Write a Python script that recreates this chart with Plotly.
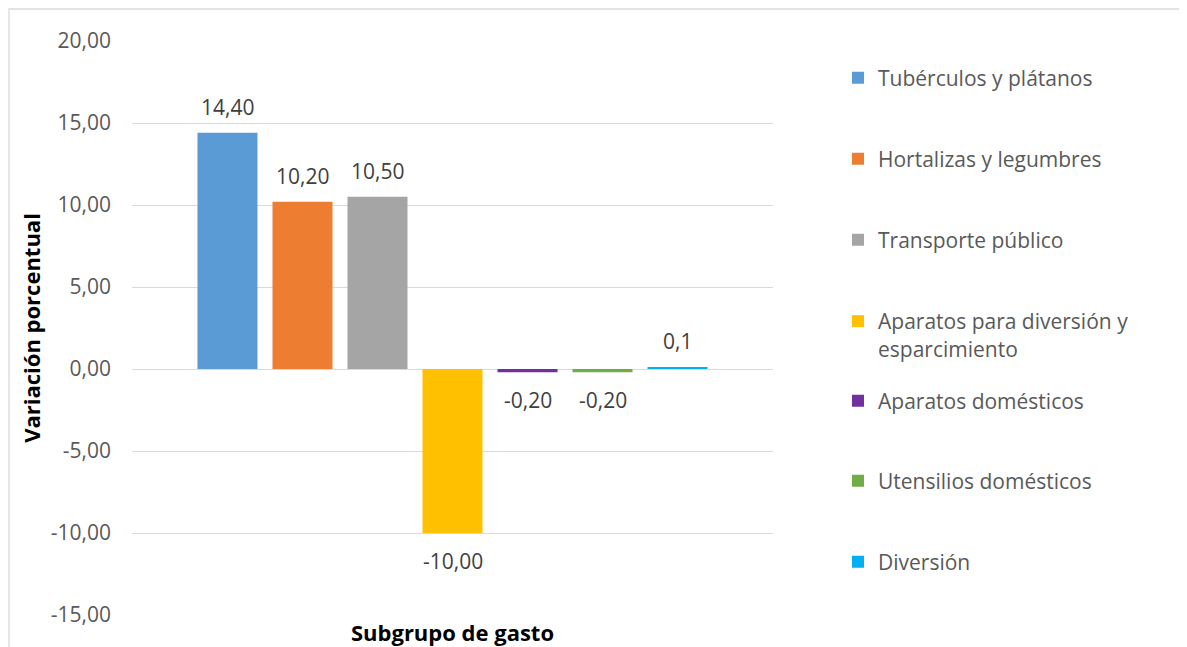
import plotly.graph_objects as go

categories = ["Tubérculos y plátanos", "Hortalizas y legumbres", "Transporte público",
              "Aparatos para diversión y esparcimiento", "Aparatos domésticos",
              "Utensilios domésticos", "Diversión"]
legend_names = ["Tubérculos y plátanos", "Hortalizas y legumbres", "Transporte público",
                "Aparatos para diversión y<br>esparcimiento", "Aparatos domésticos",
                "Utensilios domésticos", "Diversión"]
values = [14.4, 10.2, 10.5, -10.0, -0.2, -0.2, 0.1]
value_labels = ["14,40", "10,20", "10,50", "-10,00", "-0,20", "-0,20", "0,1"]
colors = ["#5B9BD5", "#ED7D31", "#A5A5A5", "#FFC000", "#7030A0", "#70AD47", "#00B0F0"]
ytick_vals = [-15, -10, -5, 0, 5, 10, 15, 20]
ytick_text = ["-15,00", "-10,00", "-5,00", "0,00", "5,00", "10,00", "15,00", "20,00"]

FONT = "Open Sans"
OFF = 8  # page body margin
W, H = 1187 - OFF, 647 - OFF
L, R, T, B = 132 - OFF, 773 - OFF, 41 - OFF, 615 - OFF  # plot area in figure px
pw, ph = R - L, B - T

def px_x(x):
    return (x - OFF - L) / pw

def px_y(y):
    return (B - (y - OFF)) / ph

legend_centers = [78, 159, 240, 335, 401, 481, 562]

fig = go.Figure()
layout_legends = {}
for i, (cat, name, v, c) in enumerate(zip(categories, legend_names, values, colors)):
    lg = "legend" if i == 0 else f"legend{i+1}"
    fig.add_trace(go.Bar(x=[cat], y=[v], name=name, marker=dict(color=c, line=dict(width=0)),
                         width=0.8, legend=lg, hoverinfo="x+y"))
    layout_legends[lg] = dict(
        x=px_x(838), xanchor="left", y=px_y(legend_centers[i]), yanchor="middle",
        font=dict(family=FONT, size=21, color="#595959"), valign="top",
        bgcolor="rgba(0,0,0,0)", borderwidth=0,
    )

annotations = []
for cat, v, lab in zip(categories, values, value_labels):
    annotations.append(dict(x=cat, y=v, text=lab, showarrow=False, xref="x", yref="y",
                            yshift=26 if v >= 0 else -28,
                            font=dict(family=FONT, size=21, color="#404040")))

fig.update_layout(
    width=W, height=H,
    margin=dict(l=L, r=W - R, t=T, b=H - B, pad=0, autoexpand=False),
    paper_bgcolor="white", plot_bgcolor="white",
    barmode="overlay",
    showlegend=True,
    annotations=annotations,
    shapes=[dict(type="rect", xref="paper", yref="paper",
                 x0=px_x(9), x1=px_x(1186), y0=px_y(700), y1=px_y(9),
                 line=dict(color="#D9D9D9", width=1.3), fillcolor="rgba(0,0,0,0)", layer="below")],
    xaxis=dict(type="category", categoryorder="array", categoryarray=categories,
               range=[-1.273, 7.273], showticklabels=False, showgrid=False,
               zeroline=False, showline=False, ticks="", automargin=False,
               title=dict(text="Subgrupo de gasto", standoff=11,
                          font=dict(family=FONT, size=22, color="#000000", weight="bold"))),
    yaxis=dict(range=[-15, 20], tickvals=ytick_vals, ticktext=ytick_text,
               showgrid=True, gridcolor="#D9D9D9", gridwidth=1.3,
               zeroline=True, zerolinecolor="#D9D9D9", zerolinewidth=1.3,
               showline=False, ticks="", ticklabelstandoff=20, automargin=False,
               tickfont=dict(family=FONT, size=21, color="#595959"),
               title=dict(text="Variación porcentual", standoff=4,
                          font=dict(family=FONT, size=22, color="#000000", weight="bold"))),
    **layout_legends,
)

fig.write_html("out.html")
